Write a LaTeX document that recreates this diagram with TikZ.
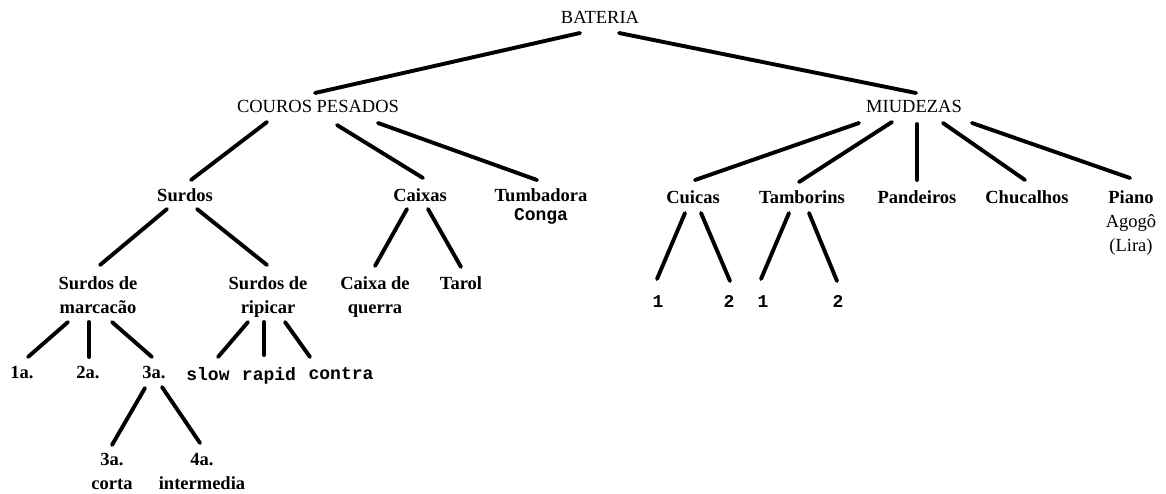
\documentclass[tikz,border=0pt]{standalone}
\usepackage{fontspec}
\setmainfont{Liberation Serif}
\setmonofont{Liberation Mono}
\tikzset{
  lbl/.style={anchor=north, inner sep=0pt, align=center, font=\fontsize{18.5}{24}\selectfont\bfseries},
  reg/.style={lbl, font=\fontsize{18.5}{24}\selectfont},
  mono/.style={lbl, font=\fontsize{18}{24}\selectfont\ttfamily\bfseries},
  branch/.style={line width=3.9pt, line cap=round},
}
\begin{document}
\begin{tikzpicture}[x=1pt,y=-1pt]
\fill[white] (0,0) rectangle (1166,493);
\useasboundingbox (0,0) rectangle (1166,493);
% level 0-1
\node[reg] (bat) at (600,11) {BATERIA};
\node[reg] (cp) at (318,100) {COUROS PESADOS};
\node[reg] (miu) at (914,100) {MIUDEZAS};
% level 2
\node[lbl] (sur) at (185,188) {Surdos};
\node[lbl] (cai) at (420,188) {Caixas};
\node[lbl] (tum) at (541,188) {Tumbadora\\[-5pt]{\ttfamily\fontsize{18}{20}\selectfont Conga}};
\node[lbl] (cui) at (693,190) {Cuicas};
\node[lbl] (tam) at (802,190) {Tamborins};
\node[lbl] (pan) at (917,190) {Pandeiros};
\node[lbl] (chu) at (1027,190) {Chucalhos};
\node[lbl] (pia) at (1131,190) {Piano\\{\mdseries Agogô}\\{\mdseries (Lira)}};
% level 3
\node[lbl] (sdm) at (98,276) {Surdos de\\marcacão};
\node[lbl] (sdr) at (268,276) {Surdos de\\ripicar};
\node[lbl] (cdq) at (375,276) {Caixa de\\querra};
\node[lbl] (tar) at (461,276) {Tarol};
\node[mono] (c1) at (658,295) {1};
\node[mono] (c2) at (729,295) {2};
\node[mono] (t1) at (763,295) {1};
\node[mono] (t2) at (838,295) {2};
% level 4
\node[lbl] (a1) at (22,366) {1a.};
\node[lbl] (a2) at (88,366) {2a.};
\node[lbl] (a3) at (154,366) {3a.};
\node[mono] (slow) at (208,367) {slow};
\node[mono] (rapid) at (269,367) {rapid};
\node[mono] (contra) at (341,367) {contra};
% level 5
\node[lbl] (a33) at (112,453) {3a.\\corta};
\node[lbl] (a4) at (202,453) {4a.\\intermedia};
% connectors
\draw[branch] ([shift={(-20,22)}]bat.north) -- ([shift={(-3,-7)}]cp.north);
\draw[branch] ([shift={(19,22)}]bat.north) -- ([shift={(2,-7)}]miu.north);
\draw[branch] ([shift={(-51,22)}]cp.north) -- ([shift={(6,-8)}]sur.north);
\draw[branch] ([shift={(19,25)}]cp.north) -- ([shift={(3,-10)}]cai.north);
\draw[branch] ([shift={(60,23)}]cp.north) -- ([shift={(-4,-8)}]tum.north);
\draw[branch] ([shift={(-55,23)}]miu.north) -- ([shift={(2,-10)}]cui.north);
\draw[branch] ([shift={(-22,22)}]miu.north) -- ([shift={(-3,-8)}]tam.north);
\draw[branch] ([shift={(3,24)}]miu.north) -- ([shift={(0,-10)}]pan.north);
\draw[branch] ([shift={(29,23)}]miu.north) -- ([shift={(-2,-10)}]chu.north);
\draw[branch] ([shift={(58,23)}]miu.north) -- ([shift={(-1,-12)}]pia.north);
\draw[branch] ([shift={(-18,21)}]sur.north) -- ([shift={(2,-11)}]sdm.north);
\draw[branch] ([shift={(12,21)}]sur.north) -- ([shift={(-1,-11)}]sdr.north);
\draw[branch] ([shift={(-13,21)}]cai.north) -- ([shift={(0,-10)}]cdq.north);
\draw[branch] ([shift={(8,21)}]cai.north) -- ([shift={(0,-9)}]tar.north);
\draw[branch] ([shift={(-8,23)}]cui.north) -- ([shift={(-1,-16)}]c1.north);
\draw[branch] ([shift={(8,23)}]cui.north) -- ([shift={(1,-14)}]c2.north);
\draw[branch] ([shift={(-13,23)}]tam.north) -- ([shift={(-2,-16)}]t1.north);
\draw[branch] ([shift={(7,23)}]tam.north) -- ([shift={(-1,-14)}]t2.north);
\draw[branch] ([shift={(-30,46)}]sdm.north) -- ([shift={(6,-9)}]a1.north);
\draw[branch] ([shift={(-9,46)}]sdm.north) -- ([shift={(1,-9)}]a2.north);
\draw[branch] ([shift={(14,46)}]sdm.north) -- ([shift={(-2,-9)}]a3.north);
\draw[branch] ([shift={(-20,46)}]sdr.north) -- ([shift={(10,-10)}]slow.north);
\draw[branch] ([shift={(-4,46)}]sdr.north) -- ([shift={(-5,-12)}]rapid.north);
\draw[branch] ([shift={(17,46)}]sdr.north) -- ([shift={(-31,-10)}]contra.north);
\draw[branch] ([shift={(-9,22)}]a3.north) -- ([shift={(0,-8)}]a33.north);
\draw[branch] ([shift={(8,21)}]a3.north) -- ([shift={(-2,-10)}]a4.north);
\end{tikzpicture}
\end{document}
